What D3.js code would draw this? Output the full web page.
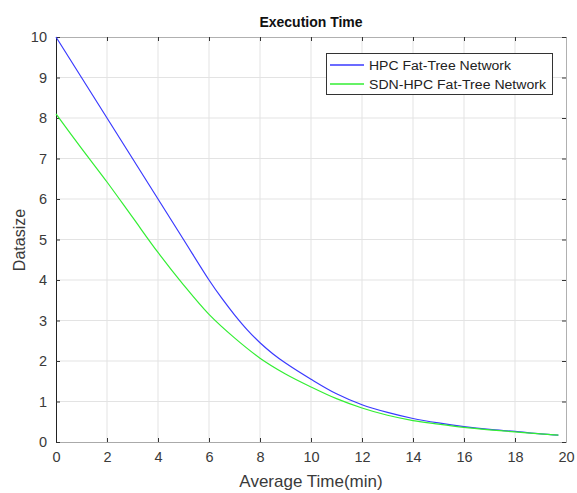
<!DOCTYPE html>
<html><head><meta charset="utf-8">
<script src="https://cdn.jsdelivr.net/npm/d3@7"></script>
<style>body{margin:0;background:#fff}svg{display:block}text{font-family:"Liberation Sans",Arial,sans-serif}</style>
</head><body><svg id="c" width="577" height="493"></svg>
<script>
const xTicks = [0,2,4,6,8,10,12,14,16,18,20];
const yTicks = [0,1,2,3,4,5,6,7,8,9,10];
const hpcX = [0,1,2,3,4,5,6,6.5,7,7.5,8,8.5,9,10,11,12,13,14,15,16,17,18,19,19.7];
const hpcY = [10,9,8,7,6,5,4.0,3.55,3.14,2.77,2.45,2.18,1.95,1.55,1.19,0.92,0.73,0.58,0.47,0.38,0.31,0.26,0.2,0.17];
const sdnX = [0,1,2,3,4,5,6,7,8,9,10,11,12,13,14,15,16,17,18,19,19.7];
const sdnY = [8.1,7.25,6.42,5.55,4.68,3.88,3.15,2.57,2.07,1.68,1.36,1.07,0.84,0.66,0.53,0.44,0.36,0.3,0.25,0.2,0.17];
const seriesNames = ["HPC Fat-Tree Network","SDN-HPC Fat-Tree Network"];
const seriesColors = ["#3a3aff","#33ee33"];

const svg = d3.select("#c");
const L=56,R=566,T=37,B=442;
const x = d3.scaleLinear().domain([0,20]).range([L,R]);
const y = d3.scaleLinear().domain([0,10]).range([B,T]);

// grid
svg.append("g").selectAll("line").data(xTicks.slice(1,-1)).join("line")
 .attr("x1",d=>x(d)).attr("x2",d=>x(d)).attr("y1",T).attr("y2",B)
 .attr("stroke","#e3e3e3").attr("stroke-width",1);
svg.append("g").selectAll("line").data(yTicks.slice(1,-1)).join("line")
 .attr("y1",d=>y(d)).attr("y2",d=>y(d)).attr("x1",L).attr("x2",R)
 .attr("stroke","#e3e3e3").attr("stroke-width",1);

// axes with inward ticks
const ax = svg.append("g").attr("transform",`translate(0,${B})`)
 .call(d3.axisBottom(x).tickValues(xTicks).tickSize(-4).tickPadding(10).tickFormat(d3.format("d")));
const axTop = svg.append("g").attr("transform",`translate(0,${T})`)
 .call(d3.axisTop(x).tickValues(xTicks).tickSize(-4).tickFormat(""));
const ay = svg.append("g").attr("transform",`translate(${L},0)`)
 .call(d3.axisLeft(y).tickValues(yTicks).tickSize(-4).tickPadding(9).tickFormat(d3.format("d")));
const ayR = svg.append("g").attr("transform",`translate(${R},0)`)
 .call(d3.axisRight(y).tickValues(yTicks).tickSize(-4).tickFormat(""));
[ax,axTop,ay,ayR].forEach(g=>{
  g.selectAll(".tick line").attr("stroke","#333");
  g.selectAll(".tick text").attr("fill","#3a3a3a").attr("font-size",14.5);
});
ax.select(".domain").attr("stroke","#aaa");
axTop.select(".domain").attr("stroke","#b0b0b0");
ayR.select(".domain").attr("stroke","#b0b0b0");
ay.select(".domain").attr("stroke","#222");

// lines
const line = d3.line().x(d=>x(d[0])).y(d=>y(d[1])).curve(d3.curveCatmullRom.alpha(0.5));
const data = [d3.zip(hpcX,hpcY), d3.zip(sdnX,sdnY)];
data.forEach((d,i)=>{
  svg.append("path").datum(d).attr("d",line).attr("fill","none")
   .attr("stroke",seriesColors[i]).attr("stroke-width",1.2);
});

// legend
const lg = svg.append("g");
lg.append("rect").attr("x",326.5).attr("y",53.5).attr("width",226).attr("height",41)
 .attr("fill","#fff").attr("stroke","#333").attr("stroke-width",1);
const lens = [142, 177];
seriesNames.forEach((n,i)=>{
  const yy = 65+i*19;
  lg.append("line").attr("x1",330).attr("x2",364).attr("y1",yy).attr("y2",yy)
   .attr("stroke",seriesColors[i]).attr("stroke-width",1.5);
  lg.append("text").attr("x",369).attr("y",yy+4.5).attr("font-size",12.5).attr("fill","#222")
   .attr("textLength",lens[i]).attr("lengthAdjust","spacingAndGlyphs").text(n);
});

// titles
svg.append("text").attr("x",311).attr("y",27).attr("text-anchor","middle")
 .attr("font-size",14).attr("font-weight","bold").attr("fill","#111").text("Execution Time");
svg.append("text").attr("x",311).attr("y",487).attr("text-anchor","middle")
 .attr("font-size",17).attr("fill","#3a3a3a").text("Average Time(min)");
svg.append("text").attr("transform","translate(25,240) rotate(-90)").attr("text-anchor","middle")
 .attr("font-size",16).attr("fill","#3a3a3a").text("Datasize");
</script></body></html>
